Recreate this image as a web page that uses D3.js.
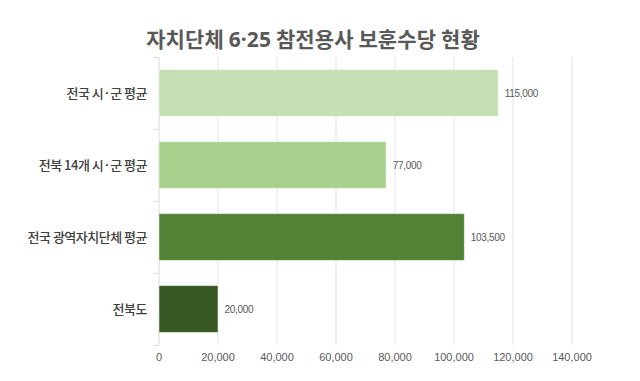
<!DOCTYPE html>
<html><head><meta charset="utf-8">
<script src="https://cdn.jsdelivr.net/npm/d3@7"></script>
<style>
body{margin:0;background:#fff;}
</style></head>
<body><svg id="c" width="640" height="381"></svg>
<script>
const title = "자치단체 6·25 참전용사 보훈수당 현황";
const categories = ["전국 시·군 평균", "전북 14개 시·군 평균", "전국 광역자치단체 평균", "전북도"];
const values = [115000, 77000, 103500, 20000];
const colors = ["#c5e0b4", "#a9d18e", "#548235", "#385723"];
const xTicks = [0, 20000, 40000, 60000, 80000, 100000, 120000, 140000];

const KR = "'Noto Sans CJK KR','Noto Sans',sans-serif";
const LAT = "'Liberation Sans',Arial,sans-serif";
const svg = d3.select("#c");
const m = {l:158.5, r:571.5, t:57, b:345};
const x = d3.scaleLinear().domain([0,140000]).range([m.l, m.r]);
const y = d3.scaleBand().domain(categories).range([m.t, m.b]).paddingInner(0.35).paddingOuter(0.175);
const fmt = d3.format(",");

const t = svg.append("text").attr("x", 313).attr("y", 47).attr("text-anchor","middle")
  .style("font-family", KR).attr("font-size", 21).attr("font-weight","bold").attr("fill","#595959")
  .attr("letter-spacing", 0.1);
t.selectAll("tspan").data(title.match(/[0-9·]+|[^0-9·]+/g)).join("tspan")
  .style("font-family", d=>/[0-9·]/.test(d) ? "'Noto Sans',sans-serif" : KR)
  .text(d=>d);

// grid
svg.append("g").selectAll("line").data(xTicks.slice(1)).join("line")
  .attr("x1", d=>x(d)+0.5).attr("x2", d=>x(d)+0.5).attr("y1", m.t).attr("y2", m.b)
  .attr("stroke","#e3e3e3").attr("stroke-width",1);

// bottom axis
const xa = svg.append("g").attr("transform",`translate(0,${m.b})`)
  .call(d3.axisBottom(x).tickValues(xTicks).tickFormat(fmt).tickSize(0).tickPadding(8));
xa.select(".domain").remove();
xa.selectAll("text").attr("font-size",11).attr("fill","#595959").style("font-family", LAT);

// left axis line & ticks
svg.append("line").attr("x1", m.l+0.5).attr("x2", m.l+0.5).attr("y1", m.t).attr("y2", m.b).attr("stroke","#d9d9d9");
const bounds = categories.map((c,i)=> m.t + i*(m.b-m.t)/categories.length).concat([m.b]);
svg.append("g").selectAll("line").data(bounds).join("line")
  .attr("x1", m.l-5).attr("x2", m.l).attr("y1", d=>d+0.5).attr("y2", d=>d+0.5).attr("stroke","#d9d9d9");

// bars
svg.append("g").selectAll("rect").data(values).join("rect")
  .attr("x", x(0)+0.5).attr("y", (d,i)=>y(categories[i]))
  .attr("width", d=>x(d)-x(0)).attr("height", y.bandwidth())
  .attr("fill",(d,i)=>colors[i]).attr("stroke","rgba(255,255,255,0.5)").attr("stroke-width",1);

// value labels
svg.append("g").selectAll("text").data(values).join("text")
  .attr("x", d=>x(d)+7).attr("y",(d,i)=>y(categories[i])+y.bandwidth()/2)
  .attr("dy","0.35em").attr("font-size",10).attr("fill","#595959")
  .style("font-family", LAT).attr("letter-spacing",-0.3)
  .text(d=>fmt(d));

// category labels
svg.append("g").selectAll("text").data(categories).join("text")
  .attr("x", 147).attr("y", d=>y(d)+y.bandwidth()/2).attr("dy","0.35em")
  .attr("text-anchor","end").style("font-family", KR).attr("font-size",13).attr("font-weight",500).attr("fill","#404040")
  .attr("letter-spacing",-0.5).text(d=>d);
</script></body></html>
